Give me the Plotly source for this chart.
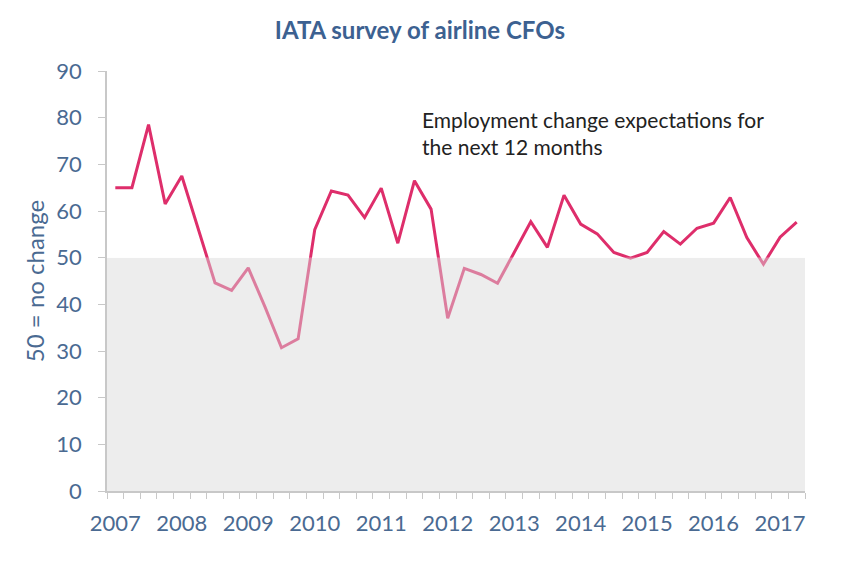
import plotly.graph_objects as go

years = ["2007", "2008", "2009", "2010", "2011", "2012", "2013", "2014", "2015", "2016", "2017"]
values = [
    65, 65, 78.5, 61.5,
    67.5, 56, 44.6, 43,
    47.8, 39.5, 30.7, 32.6,
    56, 64.3, 63.4, 58.6,
    64.9, 53.1, 66.5, 60.4,
    37, 47.7, 46.4, 44.5,
    51, 57.7, 52.2, 63.4,
    57.2, 55.1, 51.1, 49.9,
    51.1, 55.6, 52.9, 56.3,
    57.4, 62.9, 54.3, 48.6,
    54.4, 57.6,
]
threshold = 50
quarters_per_year = 4

x = list(range(len(values)))
tickvals = [i * quarters_per_year for i in range(len(years))]

FONT = "Lato"
SLATE = "#4a6a92"
DARK_PINK = "#de2e6b"
LIGHT_PINK = "#dc7d9e"

fig = go.Figure()
# full line in light pink (visible below threshold)
fig.add_trace(go.Scatter(x=x, y=values, mode="lines",
                         line=dict(color=LIGHT_PINK, width=3),
                         hoverinfo="skip", showlegend=False))
# same line in dark pink, on an axis clipped to the area above threshold
fig.add_trace(go.Scatter(x=x, y=values, mode="lines", yaxis="y2",
                         line=dict(color=DARK_PINK, width=3),
                         showlegend=False))

fig.add_shape(type="rect", xref="paper", yref="y", x0=0, x1=1, y0=0, y1=threshold,
              fillcolor="#ededed", line=dict(width=0), layer="below")

fig.update_layout(
    width=850, height=564,
    margin=dict(l=107, r=45, t=71, b=73),
    paper_bgcolor="white", plot_bgcolor="white",
    title=dict(text="<b>IATA survey of airline CFOs</b>", x=0.494, xanchor="center",
               y=0.945, yanchor="middle",
               font=dict(family=FONT, size=24, color="#3c6191")),
    xaxis=dict(range=[-0.5, len(values) - 0.5], tickmode="array", tickvals=tickvals,
               ticktext=years, ticks="", showgrid=False, zeroline=False,
               showline=True, linecolor="#c8c8c8", linewidth=1.5,
               ticklabelstandoff=12, automargin=False,
               tickfont=dict(family=FONT, size=22, color=SLATE),
               minor=dict(tickmode="linear", tick0=-0.5, dtick=1, ticks="outside",
                          ticklen=6, tickcolor="#c8c8c8", tickwidth=1, showgrid=False)),
    yaxis=dict(range=[0, 90], dtick=10, showgrid=False, zeroline=False,
               showline=True, linecolor="#c8c8c8", linewidth=1.5,
               ticks="outside", ticklen=7, tickcolor="#c8c8c8",
               ticklabelstandoff=12, automargin=False,
               tickfont=dict(family=FONT, size=22, color=SLATE),
               title=dict(text="50 = no change", standoff=5,
                          font=dict(family=FONT, size=24, color=SLATE))),
    yaxis2=dict(range=[threshold, 90], domain=[threshold / 90, 1], anchor="x",
                visible=False, showgrid=False, zeroline=False),
    annotations=[dict(text="Employment change expectations for<br>the next 12 months",
                      xref="paper", yref="paper", x=0.449, y=0.918,
                      xanchor="left", yanchor="top", align="left", showarrow=False,
                      font=dict(family=FONT, size=21, color="#222222"))],
)

fig.write_html("out.html", config={"displayModeBar": False},
               post_script="document.body.style.margin='0';")
